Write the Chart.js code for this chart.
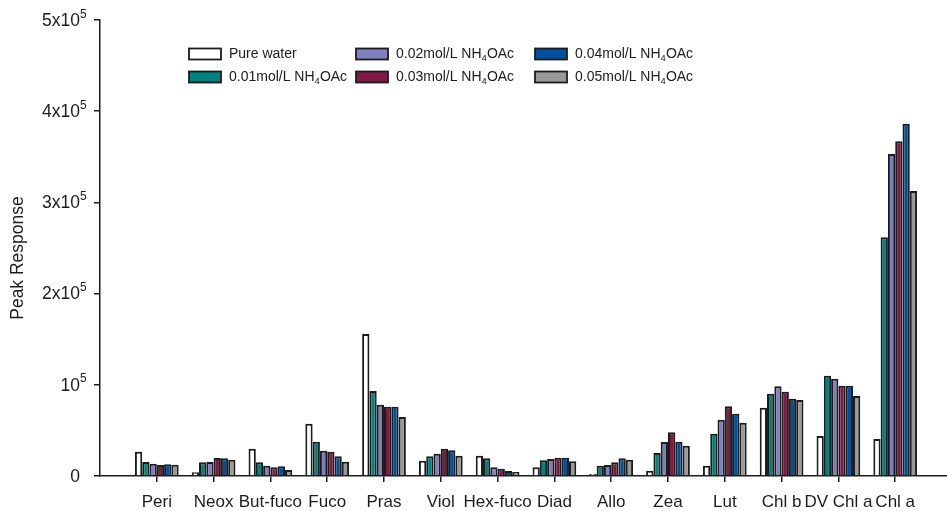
<!DOCTYPE html>
<html>
<head>
<meta charset="utf-8">
<script src="https://cdn.jsdelivr.net/npm/chart.js@4.4.1/dist/chart.umd.min.js"></script>
<style>
    html, body { margin: 0; padding: 0; background: #fff; overflow: hidden; }
    .chart_box { width: 962px; height: 511px; }
</style>
</head>
<body>
<div class="chart_box"><canvas id="chart_container"></canvas></div>
<script>
const categories = ['Peri', 'Neox', 'But-fuco', 'Fuco', 'Pras', 'Viol', 'Hex-fuco', 'Diad', 'Allo', 'Zea', 'Lut', 'Chl b', 'DV Chl a', 'Chl a'];
const seriesLabels = ['Pure water', '0.01mol/L NH₄OAc', '0.02mol/L NH₄OAc', '0.03mol/L NH₄OAc', '0.04mol/L NH₄OAc', '0.05mol/L NH₄OAc'];
const seriesColors = ['#ffffff', '#00837e', '#8080c0', '#7f1a45', '#0050a0', '#999999'];

const pureWater = [26600, 4000, 30000, 57400, 155700, 16800, 22300, 9500, 2200, 5800, 11300, 74900, 43900, 40600];
const nh4oac001 = [15400, 15000, 15000, 37600, 93200, 21600, 19400, 17200, 11300, 25200, 46400, 90200, 110000, 261700];
const nh4oac002 = [13500, 15400, 11300, 27800, 78200, 24500, 9500, 18600, 12000, 37300, 61700, 98400, 106700, 353000];
const nh4oac003 = [12000, 19700, 9500, 26600, 76000, 30000, 8000, 20100, 15000, 47900, 76400, 92400, 99000, 367000];
const nh4oac004 = [12800, 19400, 10600, 21600, 76000, 28200, 5500, 20100, 19400, 37600, 68300, 84800, 99000, 386300];
const nh4oac005 = [12400, 17900, 6600, 15700, 64700, 22300, 4400, 16100, 17900, 33200, 58400, 83300, 87700, 312500];

const yTickValues = [0, 100000, 200000, 300000, 400000, 500000];
const yTickLabels = ['0', '10⁵', '2x10⁵', '3x10⁵', '4x10⁵', '5x10⁵'];
const yTitle = 'Peak Response';

const FONT = "'Liberation Sans', Arial, sans-serif";
const INK = '#1c1c1c';

// empty slot at each end so the axis runs one category past the first and last group
const xLabels = ['', ...categories, ''];
const allSeries = [pureWater, nh4oac001, nh4oac002, nh4oac003, nh4oac004, nh4oac005];

const SUP = '⁰¹²³⁴⁵⁶⁷⁸⁹';
const SUB = '₀₁₂₃₄₅₆₇₈₉';

// draws text where unicode super/subscript digits get a smaller raised/lowered glyph
function drawRich(ctx, text, x, y, size) {
    let cx = x;
    for (const ch of text) {
        let s = size, dy = 0, c = ch;
        if (SUP.includes(ch)) { c = String(SUP.indexOf(ch)); s = size * 0.68; dy = -size * 0.38; }
        else if (SUB.includes(ch)) { c = String(SUB.indexOf(ch)); s = size * 0.68; dy = size * 0.3; }
        ctx.font = `${s}px ${FONT}`;
        ctx.fillText(c, cx, y + dy);
        cx += ctx.measureText(c).width;
    }
    return cx - x;
}

const textPlugin = {
    id: 'textPlugin',
    afterDraw(chart) {
        const ctx = chart.ctx;
        const yScale = chart.scales.y;
        ctx.save();
        ctx.fillStyle = INK;
        ctx.textAlign = 'left';
        ctx.textBaseline = 'middle';

        // y tick labels, base text right aligned, superscript hangs over
        yTickValues.forEach((v, i) => {
            const label = yTickLabels[i];
            const base = label.replace(/[⁰-⁹]/g, '');
            ctx.font = `17.5px ${FONT}`;
            const bw = ctx.measureText(base).width;
            drawRich(ctx, label, 80 - bw, yScale.getPixelForValue(v) + 1, 17.5);
        });

        // y title
        ctx.save();
        ctx.translate(18, 258);
        ctx.rotate(-Math.PI / 2);
        ctx.textAlign = 'center';
        ctx.font = `17.5px ${FONT}`;
        ctx.fillText(yTitle, 0, 0);
        ctx.restore();

        // legend, three columns of two
        const colBox = [189, 356, 535];
        const rowY = [54, 77];
        chart.data.datasets.forEach((ds, i) => {
            const col = Math.floor(i / 2), row = i % 2;
            const bx = colBox[col], by = rowY[row] - 5.5;
            ctx.fillStyle = ds.backgroundColor;
            ctx.fillRect(bx, by, 32, 11);
            ctx.strokeStyle = INK;
            ctx.lineWidth = 1.8;
            ctx.strokeRect(bx, by, 32, 11);
            ctx.fillStyle = INK;
            ctx.textAlign = 'left';
            drawRich(ctx, ds.label, bx + 40, rowY[row], 14);
        });
        ctx.restore();
    }
};

function createChart() {
    const ctx = document.getElementById('chart_container').getContext('2d');
    new Chart(ctx, {
        type: 'bar',
        data: {
            labels: xLabels,
            datasets: allSeries.map((values, i) => ({
                label: seriesLabels[i],
                data: [null, ...values, null],
                backgroundColor: seriesColors[i],
                borderColor: INK,
                borderWidth: 2,
                barPercentage: 1,
                categoryPercentage: 0.77,
            }))
        },
        options: {
            responsive: true,
            maintainAspectRatio: false,
            animation: false,
            layout: { padding: { top: 20, right: 2, left: 0, bottom: 0 } },
            plugins: {
                legend: { display: false },
                tooltip: { enabled: false }
            },
            scales: {
                x: {
                    offset: false,
                    grid: {
                        offset: false,
                        drawOnChartArea: false,
                        tickLength: 6,
                        lineWidth: 1.5,
                        tickColor: (c) => (c.index === 0 || c.index === xLabels.length - 1) ? 'rgba(0,0,0,0)' : INK
                    },
                    border: { color: INK, width: 1.5 },
                    ticks: {
                        color: INK,
                        font: { size: 17, family: FONT },
                        padding: 10,
                        autoSkip: false,
                        maxRotation: 0
                    },
                    afterFit: (s) => { s.height = 35; }
                },
                y: {
                    min: 0,
                    max: 500000,
                    grid: {
                        drawOnChartArea: false,
                        tickLength: 6,
                        lineWidth: 1.5,
                        tickColor: INK
                    },
                    border: { color: INK, width: 1.5 },
                    ticks: { stepSize: 100000, display: false },
                    afterFit: (s) => { s.width = 100; }
                }
            }
        },
        plugins: [textPlugin]
    });
}

createChart();
</script>
</body>
</html>
